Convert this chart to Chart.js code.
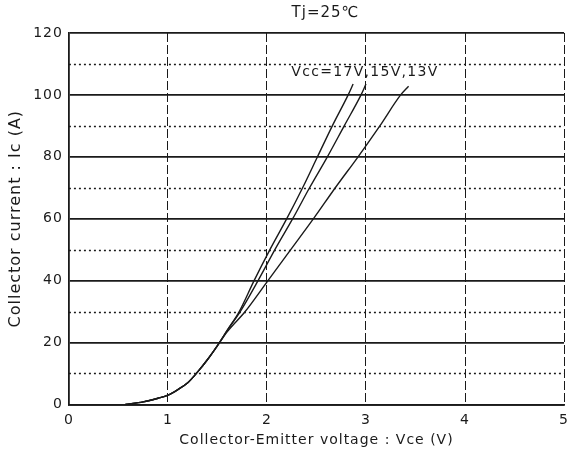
<!DOCTYPE html>
<html>
<head>
<meta charset="utf-8">
<script src="https://cdn.jsdelivr.net/npm/chart.js@4/dist/chart.umd.min.js"></script>
<style>
  html, body { margin: 0; padding: 0; background: #fff; }
  #wrap { width: 569px; height: 462px; }
</style>
</head>
<body>
<div id="wrap"><canvas id="chart"></canvas></div>
<script>
// Ic-Vce output characteristics, Tj = 25°C
const vce17 = [0.57, 0.75, 0.9, 1.0, 1.1, 1.2, 1.3, 1.4, 1.5, 1.6, 1.72, 1.87, 2.03, 2.2, 2.36, 2.51, 2.66, 2.82, 2.87]
const ic17  = [0, 0.8, 2, 3, 4.8, 7, 10.5, 14.5, 19, 24, 30, 40, 50, 60, 70, 80, 90, 100, 103.5]

const vce15 = [0.57, 0.75, 0.9, 1.0, 1.1, 1.2, 1.3, 1.4, 1.5, 1.6, 1.73, 1.91, 2.08, 2.26, 2.43, 2.61, 2.78, 2.95, 3.0]
const ic15  = [0, 0.8, 2, 3, 4.8, 7, 10.5, 14.5, 19, 24, 30, 40, 50, 60, 70, 80, 90, 100, 103.5]

const vce13 = [0.57, 0.75, 0.9, 1.0, 1.1, 1.2, 1.3, 1.4, 1.5, 1.6, 1.78, 2.01, 2.24, 2.47, 2.69, 2.92, 3.14, 3.35, 3.43]
const ic13  = [0, 0.8, 2, 3, 4.8, 7, 10.5, 14.5, 19, 23.5, 30, 40, 50, 60, 70, 80, 90, 100, 102.8]

const xTicks = [0, 1, 2, 3, 4, 5]
const yTicks = [0, 20, 40, 60, 80, 100, 120]
const yMinor = [10, 30, 50, 70, 90, 110]

const chartTitle = "Tj=25\u2103"
const curveLabel = "Vcc=17V,15V,13V"
const labelAt = { x: 2.99, y: 107.4 }

const FONT = "'DejaVu Sans', sans-serif"
const INK = "#1a1a1a"

function points(xs, ys) {
  return xs.map((x, i) => ({ x, y: ys[i] }))
}

function curve(label, xs, ys) {
  return {
    label,
    data: points(xs, ys),
    showLine: true,
    borderColor: INK,
    backgroundColor: INK,
    borderWidth: 1.4,
    pointRadius: 0,
    cubicInterpolationMode: "monotone",
    fill: false,
  }
}

// scan lettering is widely spaced
const spacing = {
  id: "spacing",
  beforeInit(chart) { chart.ctx.letterSpacing = "1px" },
  beforeUpdate(chart) { chart.ctx.letterSpacing = "1px" },
  beforeDraw(chart) { chart.ctx.letterSpacing = "1px" },
}

// dotted minor lines, title and curve label
const extras = {
  id: "extras",
  beforeDatasetsDraw(chart) {
    const { ctx, chartArea, scales } = chart
    ctx.save()
    ctx.strokeStyle = INK
    ctx.lineWidth = 1.3
    ctx.setLineDash([2, 3])
    yMinor.forEach((v) => {
      const y = Math.round(scales.y.getPixelForValue(v)) + 0.5
      ctx.beginPath()
      ctx.moveTo(chartArea.left, y)
      ctx.lineTo(chartArea.right, y)
      ctx.stroke()
    })
    ctx.restore()
  },
  afterDraw(chart) {
    const { ctx, chartArea, scales } = chart
    ctx.save()
    ctx.fillStyle = INK
    ctx.textAlign = "center"
    ctx.textBaseline = "middle"
    ctx.letterSpacing = "1px"
    ctx.font = "15px " + FONT
    ctx.fillText(chartTitle, (chartArea.left + chartArea.right) / 2 + 9, 13)
    ctx.letterSpacing = "1.3px"
    ctx.font = "14px " + FONT
    ctx.fillText(curveLabel, scales.x.getPixelForValue(labelAt.x), scales.y.getPixelForValue(labelAt.y))
    ctx.restore()
  },
}

new Chart(document.getElementById("chart"), {
  type: "scatter",
  data: {
    datasets: [
      curve("17V", vce17, ic17),
      curve("15V", vce15, ic15),
      curve("13V", vce13, ic13),
    ],
  },
  options: {
    responsive: true,
    maintainAspectRatio: false,
    animation: false,
    layout: { padding: { top: 33, right: 0, left: 6, bottom: 13 } },
    plugins: { legend: { display: false }, tooltip: { enabled: false } },
    scales: {
      x: {
        type: "linear",
        min: 0,
        max: 5,
        afterBuildTicks: (scale) => { scale.ticks = xTicks.map((v) => ({ value: v })) },
        ticks: { color: INK, font: { family: FONT, size: 14 }, padding: 0, maxRotation: 0 },
        grid: { color: INK, lineWidth: 1, drawTicks: true, tickLength: 8, tickColor: "rgba(0,0,0,0)" },
        border: { color: INK, width: 1.8, dash: [9, 3] },
        title: {
          display: true,
          text: "Collector-Emitter voltage : Vce (V)",
          color: INK,
          font: { family: FONT, size: 14 },
          padding: { top: 3, bottom: 0 },
        },
      },
      y: {
        type: "linear",
        min: 0,
        max: 120,
        afterBuildTicks: (scale) => { scale.ticks = yTicks.map((v) => ({ value: v })) },
        ticks: { color: INK, font: { family: FONT, size: 14 }, padding: 6 },
        grid: { color: INK, lineWidth: 1.8, drawTicks: false },
        border: { color: INK, width: 1.8 },
        title: {
          display: true,
          text: "Collector current : Ic (A)",
          color: INK,
          font: { family: FONT, size: 16 },
          padding: { top: 0, bottom: 2 },
        },
      },
    },
  },
  plugins: [spacing, extras],
})
</script>
</body>
</html>
